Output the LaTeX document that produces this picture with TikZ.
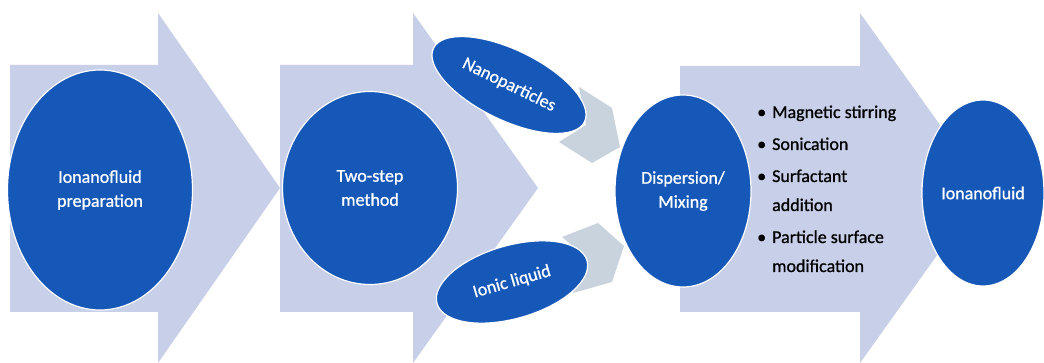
\documentclass[tikz,border=0pt]{standalone}
\usepackage{fontspec}
\setmainfont{Carlito}
\newfontfamily\medfont{Carlito}[FakeBold=0.8]
\usetikzlibrary{shapes.geometric}
\definecolor{lav}{RGB}{200,207,232}
\definecolor{cblue}{RGB}{22,88,184}
\definecolor{cgrey}{RGB}{200,211,221}
\begin{document}
\begin{tikzpicture}[x=1pt,y=-1pt,
  bigarrow/.style={fill=lav, draw=none},
  chev/.style={fill=cgrey, draw=none},
  blob/.style={ellipse, fill=cblue, draw=white, line width=1.2pt, text=white, align=center, inner sep=0pt, font=\medfont\fontsize{18}{24}\selectfont},
]
\fill[white] (0,0) rectangle (1044,363);
\useasboundingbox (0,0) rectangle (1044,363);
% big process arrows
\path[bigarrow] (10,65) -- (158,65) -- (158,13) -- (280,188) -- (158,363) -- (158,312) -- (10,312) -- cycle;
\path[bigarrow] (280,65) -- (413,65) -- (413,13) -- (538,188) -- (413,363) -- (413,312) -- (280,312) -- cycle;
\path[bigarrow] (680,66) -- (860,66) -- (860,13) -- (985,188) -- (860,363) -- (860,312) -- (680,312) -- cycle;
% small chevrons
\path[chev] (579,87) -- (612,108) -- (620,147) -- (592,163) -- (559,142) -- (586,125) -- cycle;
\path[chev] (562,237) -- (598,223) -- (624,246) -- (612,282) -- (573,293) -- (587,258) -- cycle;
% nodes
\node[blob, minimum width=185, minimum height=240] (prep) at (100,190) {Ionanofluid\\preparation};
\node[blob, minimum width=175, minimum height=193] (two) at (370,188) {Two-step\\method};
\node[blob, minimum width=168, minimum height=70, rotate=-26] (nano) at (509,85) {Nanoparticles};
\node[blob, minimum width=156, minimum height=73, rotate=16] (ionic) at (512,282) {Ionic liquid};
\node[blob, minimum width=136, minimum height=192] (disp) at (683,191) {Dispersion/\\Mixing};
\node[blob, minimum width=122, minimum height=186] (fluid) at (983,193) {Ionanofluid};
\node[anchor=base west, inner sep=0pt, font=\medfont\fontsize{18}{29}\selectfont] (list) at (757,118) {\begin{tabular}[t]{@{}l@{\hspace{6pt}}l@{}}
\textbullet & Magnetic stirring\\[3pt]
\textbullet & Sonication\\[3pt]
\textbullet & Surfactant\\
 & addition\\[3pt]
\textbullet & Particle surface\\
 & modification
\end{tabular}};
\end{tikzpicture}
\end{document}
